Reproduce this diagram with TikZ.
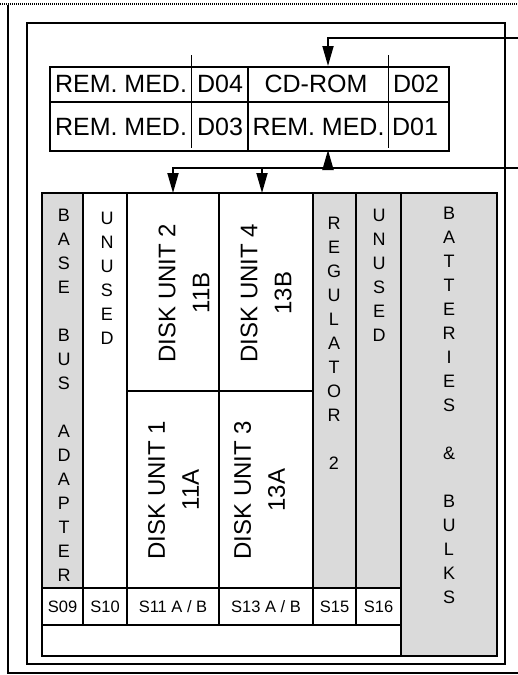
\documentclass[tikz,border=0pt]{standalone}
\usepackage{fontspec}
\setmainfont{Liberation Sans}
\usetikzlibrary{arrows.meta}
\definecolor{panelgrey}{HTML}{DADADA}
\begin{document}
\begin{tikzpicture}[x=1pt,y=-1pt,
  frame/.style={line width=1.8pt},
  slotbox/.style={draw, line width=1.6pt, anchor=north west, inner sep=0pt, outer sep=0pt},
  greybox/.style={slotbox, fill=panelgrey},
  cell/.style={inner sep=0pt, font=\fontsize{25}{30}\selectfont},
  vlabel/.style={anchor=north, inner sep=0pt, align=center, font=\fontsize{18}{24}\selectfont},
  disklabel/.style={rotate=90, inner sep=0pt, align=center, font=\fontsize{24}{34}\selectfont},
  slotlabel/.style={inner sep=0pt, font=\fontsize{16.5}{20}\selectfont},
  conn/.style={line width=1.8pt},
  arrowconn/.style={conn, -{Triangle[length=20pt,width=11pt]}}
]
\useasboundingbox (0,0) rectangle (518,675);

% outer frame (cut off at the right)
\draw[line width=2pt, dash pattern=on 1pt off 1pt] (0,3.5) -- (518,3.5);
\draw[frame] (8,5) -- (8,673) -- (518,673);
% inner frame
\node[draw, line width=1.8pt, anchor=north west, minimum width=478pt, minimum height=641pt, inner sep=0pt] (inner) at (26,22) {};

% media table
\node[draw, line width=1.8pt, anchor=north west, minimum width=399pt, minimum height=84pt, inner sep=0pt] (table) at (49,66) {};
\draw[line width=1.6pt] (49,102) -- (448,102);
\draw[line width=1.6pt] (248,66) -- (248,150);
\draw[line width=0.8pt] (191,55) -- (191,148);
\draw[line width=0.8pt] (388,55) -- (388,148);
\node[cell] (c11) at (121,84) {REM. MED.};
\node[cell] (c12) at (220,84) {D04};
\node[cell] (c13) at (316,84) {CD-ROM};
\node[cell] (c14) at (416,84) {D02};
\node[cell] (c21) at (121,127) {REM. MED.};
\node[cell] (c22) at (220,127) {D03};
\node[cell] (c23) at (318.5,127) {REM. MED.};
\node[cell] (c24) at (415,127) {D01};

% slot columns
\node[greybox, minimum width=41pt, minimum height=395pt] (bba) at (42,193) {};
\node[slotbox, minimum width=44pt, minimum height=395pt] (un1) at (83,193) {};
\node[slotbox, minimum width=92pt, minimum height=198pt] (du2) at (127,193) {};
\node[slotbox, minimum width=92pt, minimum height=197pt] (du1) at (127,391) {};
\node[slotbox, minimum width=94pt, minimum height=198pt] (du4) at (219,193) {};
\node[slotbox, minimum width=94pt, minimum height=197pt] (du3) at (219,391) {};
\node[greybox, minimum width=43pt, minimum height=395pt] (reg) at (313,193) {};
\node[greybox, minimum width=45pt, minimum height=395pt] (un2) at (356,193) {};
\node[greybox, minimum width=96pt, minimum height=463pt] (bat) at (401,193) {};

% slot label row
\node[slotbox, minimum width=41pt, minimum height=37pt] (s09) at (42,588) {};
\node[slotbox, minimum width=44pt, minimum height=37pt] (s10) at (83,588) {};
\node[slotbox, minimum width=92pt, minimum height=37pt] (s11) at (127,588) {};
\node[slotbox, minimum width=94pt, minimum height=37pt] (s13) at (219,588) {};
\node[slotbox, minimum width=43pt, minimum height=37pt] (s15) at (313,588) {};
\node[slotbox, minimum width=45pt, minimum height=37pt] (s16) at (356,588) {};
\node[slotbox, minimum width=359pt, minimum height=31pt] (base) at (42,625) {};

\node[slotlabel] (t09) at (s09.center) {S09};
\node[slotlabel] (t10) at (s10.center) {S10};
\node[slotlabel] (t11) at (s11.center) {S11 A / B};
\node[slotlabel] (t13) at (s13.center) {S13 A / B};
\node[slotlabel] (t15) at (s15.center) {S15};
\node[slotlabel] (t16) at (s16.center) {S16};

% vertical letter labels
\node[vlabel] (bbaT) at (64,208.5) {B\\A\\S\\E\\[24pt]B\\U\\S\\[24pt]A\\D\\A\\P\\T\\E\\R};
\node[vlabel] (un1T) at (107,211.5) {U\\N\\U\\S\\E\\D};
\node[vlabel] (regT) at (334,216.5) {R\\E\\G\\U\\L\\A\\T\\O\\R\\[24pt]2};
\node[vlabel] (un2T) at (379,208.5) {U\\N\\U\\S\\E\\D};
\node[vlabel] (batT) at (449,206.5) {B\\A\\T\\T\\E\\R\\I\\E\\S\\[24pt]\&\\[24pt]B\\U\\L\\K\\S};

% disk unit labels
\node[disklabel] (du2T) at (184,293) {DISK UNIT 2\\11B};
\node[disklabel] (du4T) at (266,293) {DISK UNIT 4\\13B};
\node[disklabel] (du1T) at (173.5,490) {DISK UNIT 1\\11A};
\node[disklabel] (du3T) at (259.5,490) {DISK UNIT 3\\13A};

% connectors
\coordinate (inA) at (518,38);
\coordinate (tabTop) at (328,66);
\coordinate (inB) at (518,168);
\coordinate (busJ) at (328,168);
\coordinate (tabBot) at (328,150);
\coordinate (du4In) at (262,193);
\draw[arrowconn] (inA) -| (tabTop);
\draw[conn] (inB) -- (busJ);
\draw[arrowconn] (busJ) -- (tabBot);
\draw[arrowconn] (busJ) -| (du2.north);
\draw[arrowconn] (du4In |- busJ) -- (du4In);
\end{tikzpicture}
\end{document}
